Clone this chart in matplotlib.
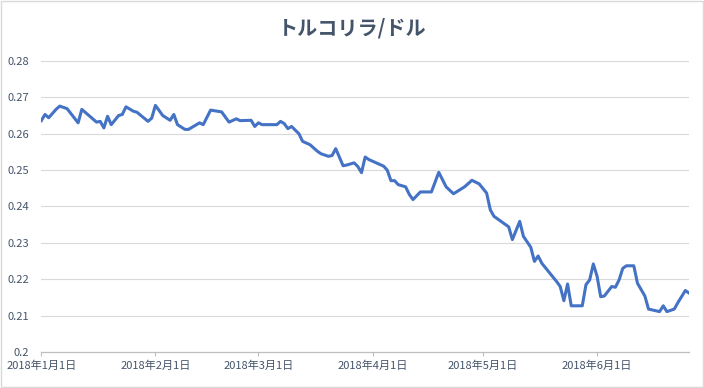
import matplotlib
matplotlib.use("Agg")
import matplotlib.pyplot as plt
from matplotlib.patches import Rectangle
import pandas as pd

plt.rcParams['font.family'] = ['Noto Sans CJK JP', 'DejaVu Sans']

title = "トルコリラ/ドル"
start = "2018-01-01"
# days since 2018-01-01 and TRY/USD rate
day_offsets = [0, 1, 2, 4, 5, 7, 10, 11, 15, 16, 17, 18, 19, 21, 22, 23, 25, 26, 29, 30,
               31, 33, 35, 36, 37, 39, 40, 43, 44, 46, 49, 51, 53, 54, 57, 58, 59, 60, 64, 65,
               66, 67, 68, 69, 70, 71, 73, 75, 76, 78, 79, 80, 82, 83, 85, 86, 87, 88, 89, 91,
               93, 94, 95, 96, 97, 99, 100, 101, 103, 106, 108, 110, 112, 115, 117, 119, 121, 122, 123, 127,
               128, 130, 131, 133, 134, 135, 136, 140, 141, 142, 143, 144, 147, 148, 149, 150, 151, 152, 153, 155,
               156, 157, 158, 159, 161, 162, 164, 165, 168, 169, 170, 172, 173, 175, 176]
rates = [0.2636, 0.2653, 0.2644, 0.2667, 0.2676, 0.2669, 0.2630, 0.2667, 0.2632, 0.2634,
         0.2616, 0.2648, 0.2625, 0.2650, 0.2653, 0.2674, 0.2662, 0.2659, 0.2634, 0.2643,
         0.2678, 0.2650, 0.2637, 0.2653, 0.2625, 0.2612, 0.2612, 0.2630, 0.2625, 0.2665,
         0.2660, 0.2632, 0.2641, 0.2636, 0.2637, 0.2620, 0.2630, 0.2625, 0.2625, 0.2634,
         0.2628, 0.2614, 0.2620, 0.2610, 0.2600, 0.2579, 0.2570, 0.2552, 0.2545, 0.2538,
         0.2540, 0.2559, 0.2512, 0.2514, 0.2520, 0.2510, 0.2493, 0.2536, 0.2529, 0.2520,
         0.2511, 0.2500, 0.2471, 0.2471, 0.2460, 0.2454, 0.2433, 0.2419, 0.2440, 0.2440,
         0.2494, 0.2454, 0.2435, 0.2454, 0.2472, 0.2462, 0.2437, 0.2391, 0.2373, 0.2344,
         0.2309, 0.2359, 0.2318, 0.2288, 0.2249, 0.2264, 0.2244, 0.2194, 0.2180, 0.2141,
         0.2187, 0.2127, 0.2127, 0.2185, 0.2198, 0.2242, 0.2209, 0.2152, 0.2154, 0.2180,
         0.2178, 0.2198, 0.2230, 0.2237, 0.2237, 0.2189, 0.2154, 0.2118, 0.2111, 0.2127,
         0.2111, 0.2118, 0.2136, 0.2169, 0.2162]
y_ticks = [0.2, 0.21, 0.22, 0.23, 0.24, 0.25, 0.26, 0.27, 0.28]
y_tick_labels = ["0.2", "0.21", "0.22", "0.23", "0.24", "0.25", "0.26", "0.27", "0.28"]
x_tick_dates = ["2018-01-01", "2018-02-01", "2018-03-01", "2018-04-01", "2018-05-01", "2018-06-01"]
x_tick_labels = ["2018年1月1日", "2018年2月1日", "2018年3月1日", "2018年4月1日", "2018年5月1日", "2018年6月1日"]

dates = pd.Timestamp(start) + pd.to_timedelta(day_offsets, unit="D")

text_color = "#44546A"

fig = plt.figure(figsize=(7.04, 3.88), dpi=100)
fig.patches.append(Rectangle((0.0015, 0.002), 0.997, 0.996, transform=fig.transFigure,
                             fill=False, edgecolor="#d9d9d9", linewidth=1.0))
ax = fig.add_axes([0.0587, 0.0928, 0.9200, 0.7500])

ax.plot(dates, rates, color="#4472C4", linewidth=2.2, solid_joinstyle="round")

ax.set_ylim(0.2, 0.28)
ax.set_xlim(dates[0], dates[-1])
ax.set_yticks(y_ticks)
ax.set_yticklabels(y_tick_labels)
ax.set_xticks(pd.to_datetime(x_tick_dates))
ax.set_xticklabels(x_tick_labels)

ax.grid(axis="y", color="#d9d9d9", linewidth=0.8)
ax.set_axisbelow(True)
for s in ["left", "right", "top"]:
    ax.spines[s].set_visible(False)
ax.spines["bottom"].set_color("#bfbfbf")
ax.spines["bottom"].set_linewidth(0.9)
ax.tick_params(axis="y", length=0, pad=9, labelsize=8, labelcolor=text_color)
ax.tick_params(axis="x", length=3, width=0.8, color="#bfbfbf", pad=3, labelsize=8, labelcolor=text_color)

fig.text(0.5, 1 - 28 / 388, title, ha="center", va="center", fontsize=14.5,
         fontweight="bold", color=text_color)

fig.savefig("out.png", dpi=100)
